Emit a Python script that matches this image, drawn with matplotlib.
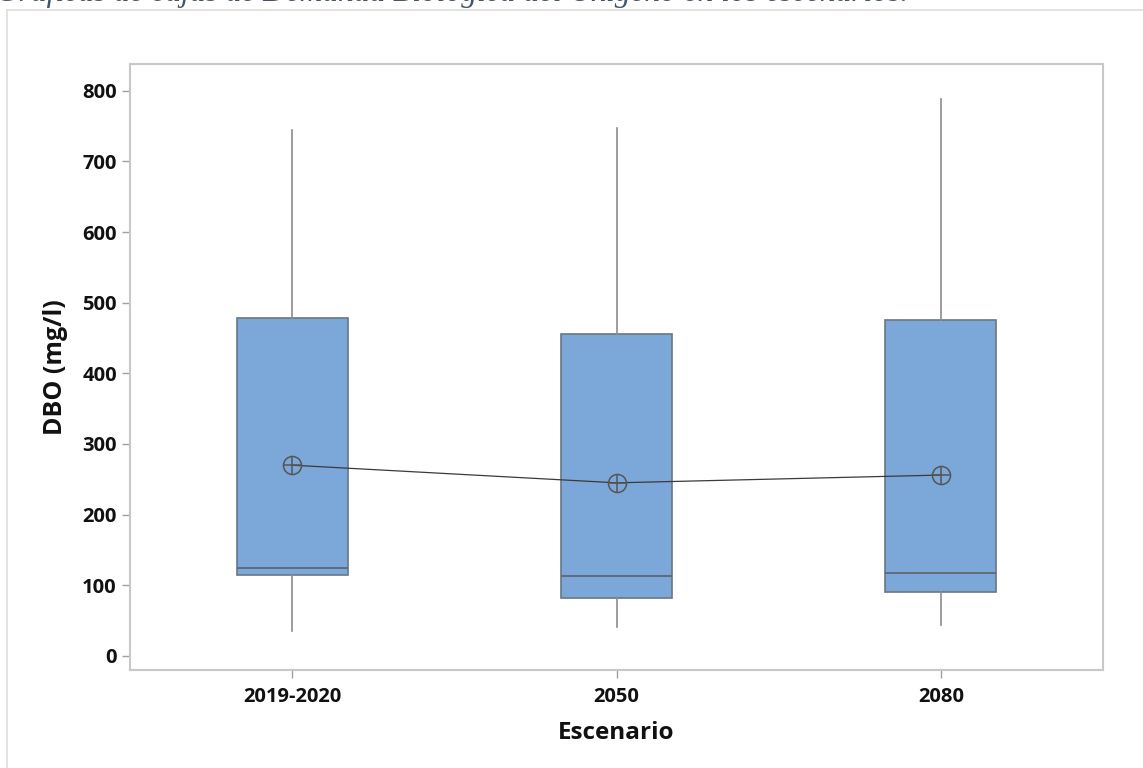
import matplotlib
matplotlib.use("Agg")
import matplotlib.pyplot as plt
from matplotlib.lines import Line2D

categories = ["2019-2020", "2050", "2080"]
whisker_low = [35, 41, 44]
q1 = [114, 82, 91]
median = [125, 113, 118]
q3 = [478, 456, 475]
whisker_high = [745, 748, 788]
means = [270, 245, 256]
yticks = [0, 100, 200, 300, 400, 500, 600, 700, 800]

W, H = 1143, 768
fig = plt.figure(figsize=(W / 100, H / 100), dpi=100)
ax = fig.add_axes([130 / W, 1 - 670 / H, (1103 - 130) / W, (670 - 64) / H])

stats = []
for i, c in enumerate(categories):
    stats.append(dict(label=c, whislo=whisker_low[i], q1=q1[i], med=median[i],
                      q3=q3[i], whishi=whisker_high[i], fliers=[]))

pos = list(range(1, len(categories) + 1))
ax.bxp(stats, positions=pos, widths=0.343, patch_artist=True, showcaps=False,
       boxprops=dict(facecolor="#7BA7D9", edgecolor="#6a7684", linewidth=1.2),
       medianprops=dict(color="#5d6874", linewidth=1.3),
       whiskerprops=dict(color="#8c8c8c", linewidth=1.2))

ax.plot(pos, means, color="#3a3a3a", linewidth=0.9, zorder=4)
ax.plot(pos, means, linestyle="none", marker="o", markersize=13,
        markerfacecolor="none", markeredgecolor="#555555", markeredgewidth=1.1, zorder=5)
ax.plot(pos, means, linestyle="none", marker="+", markersize=13,
        markeredgecolor="#555555", markeredgewidth=1.1, zorder=5)

ax.set_xlim(0.5, 3.5)
ax.set_ylim(-20, 838)
ax.set_yticks(yticks)
ax.set_xticks(pos)
ax.set_xticklabels(categories)

for s in ax.spines.values():
    s.set_color("#c8c8c8")
    s.set_linewidth(1.5)
ax.tick_params(axis="both", colors="#a0a0a0", length=6, width=1, labelcolor="#111111",
               labelsize=14.5)
ax.tick_params(axis="x", pad=6)
for lab in ax.get_xticklabels() + ax.get_yticklabels():
    lab.set_fontfamily("Open Sans")
    lab.set_fontweight("bold")

ax.set_xlabel("Escenario", fontsize=17.5, fontfamily="Open Sans", fontweight="bold",
              color="#111111", labelpad=10)
ax.set_ylabel("DBO (mg/l)", fontsize=18, fontfamily="Open Sans", fontweight="bold",
              color="#111111", labelpad=10)

# outer page frame
fig.add_artist(Line2D([7 / W, 7 / W], [0, 1 - 10 / H], transform=fig.transFigure,
                      color="#dddddd", linewidth=1.2))
fig.add_artist(Line2D([7 / W, 1], [1 - 10 / H, 1 - 10 / H], transform=fig.transFigure,
                      color="#dddddd", linewidth=1.2))

fig.text(-4 / W, 1 - 1.5 / H, "Gráficas de cajas de Demanda Biológica del Oxígeno en los escenarios.",
         fontfamily="Liberation Serif", fontstyle="italic", fontsize=22.6, color="#44546A",
         ha="left", va="baseline")

fig.savefig("out.png", dpi=100)
